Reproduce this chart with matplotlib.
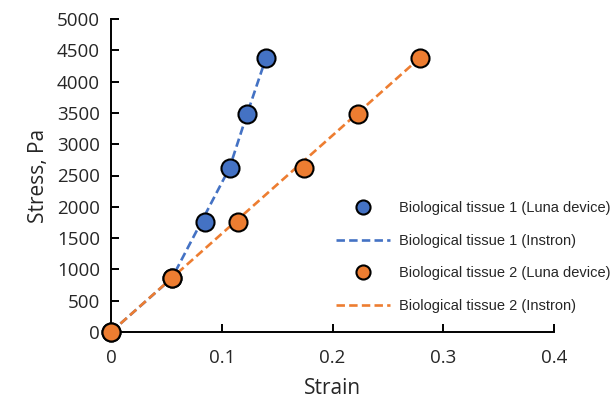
import matplotlib
matplotlib.use("Agg")
import matplotlib.pyplot as plt

# Luna device measurements
strain_t1 = [0.0, 0.055, 0.085, 0.107, 0.123, 0.140]
stress_t1 = [0, 860, 1750, 2620, 3490, 4380]
strain_t2 = [0.0, 0.055, 0.115, 0.174, 0.223, 0.279]
stress_t2 = [0, 860, 1750, 2620, 3490, 4380]

# Instron curves
instron_strain_t1 = [0.0, 0.055, 0.107, 0.123, 0.140]
instron_stress_t1 = [0, 860, 2620, 3490, 4380]
instron_strain_t2 = [0.0, 0.279]
instron_stress_t2 = [0, 4380]

labels = ["Biological tissue 1 (Luna device)", "Biological tissue 1 (Instron)",
          "Biological tissue 2 (Luna device)", "Biological tissue 2 (Instron)"]

blue = "#4472C4"
orange = "#ED7D31"
txt = "#262626"

plt.rcParams['font.family'] = ['Open Sans', 'DejaVu Sans']

fig = plt.figure(figsize=(6.11, 4.05), dpi=100)
ax = fig.add_axes([111 / 611, 1 - 332 / 405, 443 / 611, 313 / 405])

l1, = ax.plot(instron_strain_t1, instron_stress_t1, color=blue, lw=1.9,
              dashes=(3.2, 1.6), zorder=2)
l2, = ax.plot(instron_strain_t2, instron_stress_t2, color=orange, lw=1.9,
              dashes=(3.2, 1.6), zorder=2)
m1, = ax.plot(strain_t1, stress_t1, 'o', ms=13, mfc=blue, mec="black",
              mew=1.5, zorder=3, clip_on=False)
m2, = ax.plot(strain_t2, stress_t2, 'o', ms=13, mfc=orange, mec="black",
              mew=1.5, zorder=4, clip_on=False)

ax.set_xlim(0, 0.4)
ax.set_ylim(0, 5000)
ax.set_xticks([0, 0.1, 0.2, 0.3, 0.4])
ax.set_xticklabels(["0", "0.1", "0.2", "0.3", "0.4"])
ax.set_yticks(range(0, 5001, 500))

for s in ("top", "right"):
    ax.spines[s].set_visible(False)
for s in ("left", "bottom"):
    ax.spines[s].set_linewidth(1.4)
    ax.spines[s].set_color("black")
ax.tick_params(direction="in", length=6, width=1.4, color="black",
               labelsize=13.5, labelcolor=txt)
ax.tick_params(axis="x", pad=12)
ax.tick_params(axis="y", pad=8)

ax.set_xlabel("Strain", fontsize=15, color=txt, labelpad=8)
ax.set_ylabel("Stress, Pa", fontsize=15, color=txt, labelpad=6)

leg = fig.legend([m1, l1, m2, l2], labels, loc="upper left",
                 bbox_to_anchor=(329 / 611, 1 - 194 / 405),
                 frameon=False, borderpad=0, handlelength=3.7,
                 handletextpad=0.6, labelspacing=1.27, markerscale=0.78,
                 prop={"family": "Liberation Sans", "size": 10.5})
for t in leg.get_texts():
    t.set_color(txt)

fig.savefig("out.png", dpi=100)
